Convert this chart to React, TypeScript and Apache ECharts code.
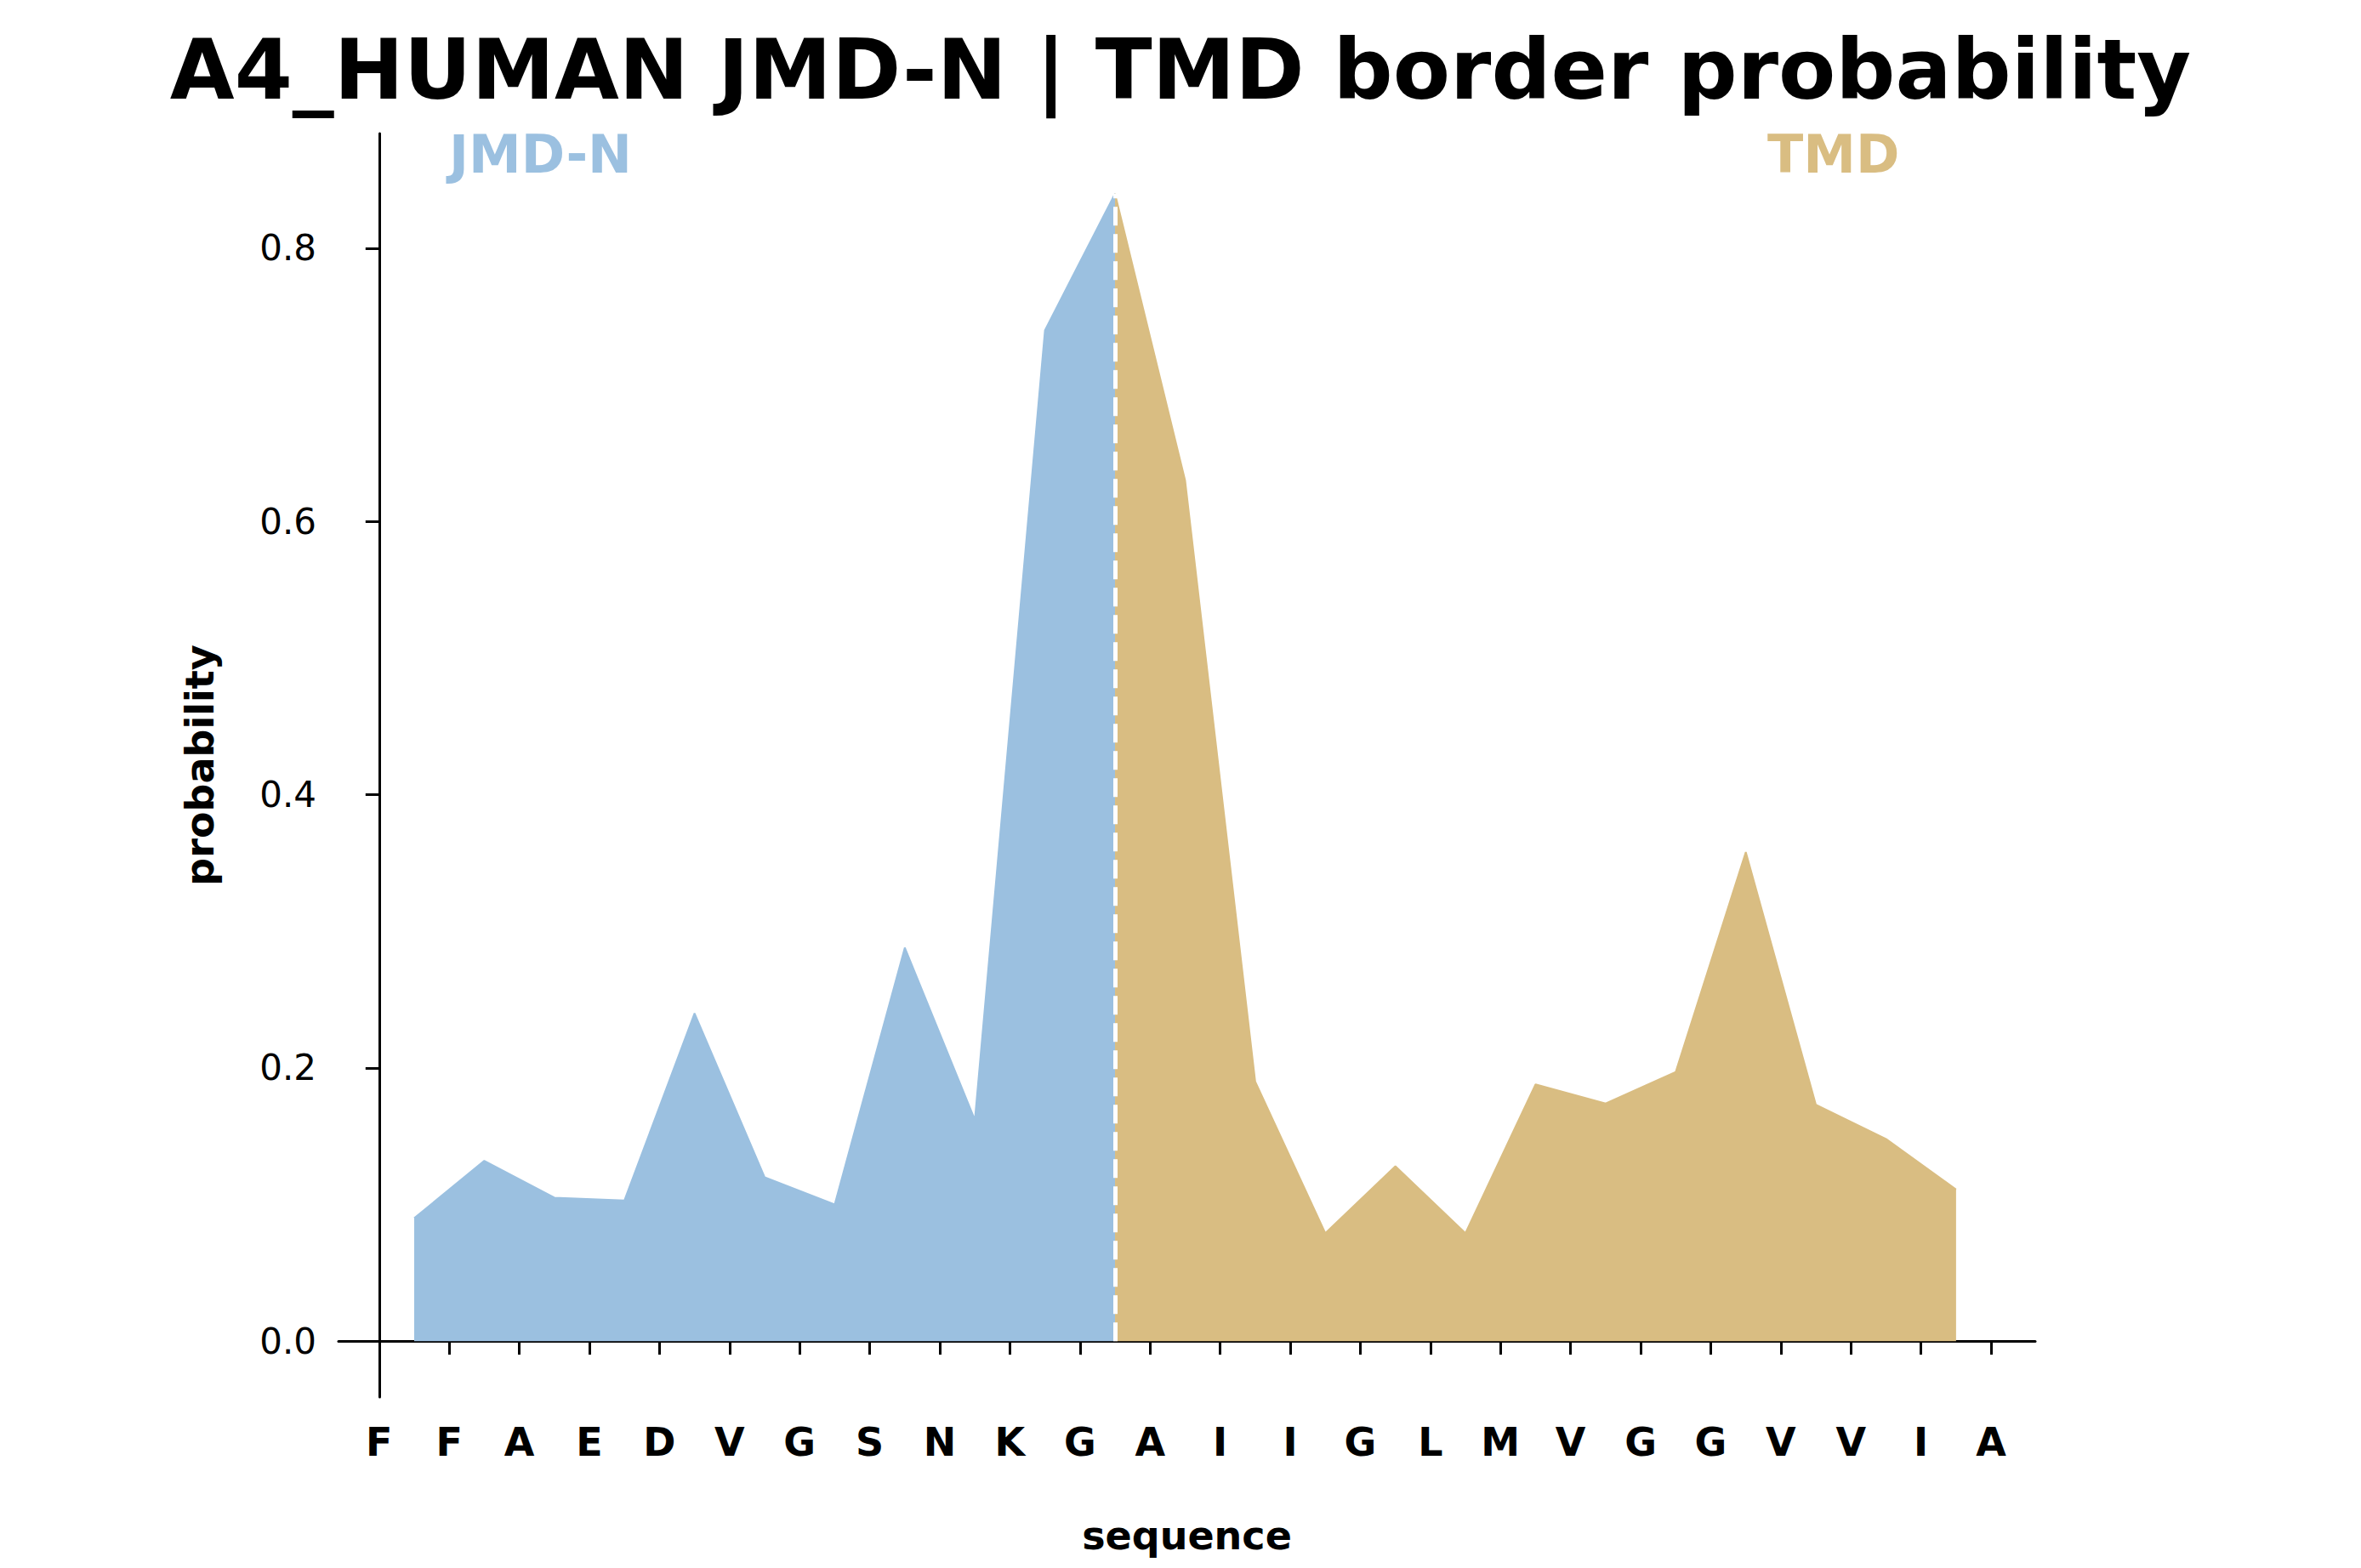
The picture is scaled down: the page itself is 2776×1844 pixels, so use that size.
import React, { useRef, useEffect } from 'react'
import * as echarts from 'echarts'

const residues = ['F', 'F', 'A', 'E', 'D', 'V', 'G', 'S', 'N', 'K', 'G', 'A', 'I', 'I', 'G', 'L', 'M', 'V', 'G', 'G', 'V', 'V', 'I', 'A']
const jmdX = [0.5, 1.5, 2.5, 3.5, 4.5, 5.5, 6.5, 7.5, 8.5, 9.5, 10.5]
const jmdY = [0.09, 0.132, 0.105, 0.103, 0.24, 0.12, 0.1, 0.288, 0.162, 0.74, 0.84]
const tmdX = [10.5, 11.5, 12.5, 13.5, 14.5, 15.5, 16.5, 17.5, 18.5, 19.5, 20.5, 21.5, 22.5]
const tmdY = [0.84, 0.63, 0.19, 0.079, 0.128, 0.079, 0.188, 0.174, 0.197, 0.358, 0.173, 0.148, 0.111]
const yTicks = [0, 0.2, 0.4, 0.6, 0.8]
const borderX = 10.5

const BLUE = '#9bc0e0'
const TAN = '#d9bd82'
const FONT = 'DejaVu Sans'

const App: React.FC = () => {
  const chartRef = useRef<HTMLDivElement>(null)

  useEffect(() => {
    document.body.style.margin = '0'
    if (!chartRef.current) return
    const chart = echarts.init(chartRef.current, undefined, { renderer: 'svg' })

    const option = {
      animation: false,
      backgroundColor: '#fff',
      textStyle: { fontFamily: FONT },
      title: {
        text: 'A4_HUMAN JMD-N | TMD border probability',
        left: 'center',
        top: 28,
        textStyle: { fontFamily: FONT, fontSize: 98, fontWeight: 'bold', color: '#000' }
      },
      graphic: [
        { type: 'text', left: 528, top: 150, style: { text: 'JMD-N', fill: BLUE, font: `bold 62px "${FONT}"` } },
        { type: 'text', left: 2078, top: 150, style: { text: 'TMD', fill: TAN, font: `bold 62px "${FONT}"` } }
      ],
      grid: { left: 398, right: 383, top: 157, bottom: 201 },
      xAxis: {
        type: 'value',
        min: -0.58,
        max: 23.63,
        name: 'sequence',
        nameLocation: 'middle',
        nameGap: 140,
        nameTextStyle: { fontFamily: FONT, fontSize: 46, fontWeight: 'bold', color: '#000' },
        axisLine: { lineStyle: { color: '#000', width: 3 } },
        axisTick: {
          show: true,
          length: 16,
          lineStyle: { color: '#000', width: 3 },
          customValues: residues.map((_, i) => i)
        },
        axisLabel: {
          customValues: residues.map((_, i) => i),
          formatter: (v: number) => residues[Math.round(v)] ?? '',
          margin: 30,
          fontFamily: FONT,
          fontSize: 46,
          fontWeight: 'bold',
          color: '#000'
        },
        splitLine: { show: false }
      },
      yAxis: {
        type: 'value',
        min: -0.041,
        max: 0.884,
        name: 'probability',
        nameLocation: 'middle',
        nameGap: 140,
        nameTextStyle: { fontFamily: FONT, fontSize: 46, fontWeight: 'bold', color: '#000' },
        axisLine: { show: true, lineStyle: { color: '#000', width: 3 } },
        axisTick: { show: true, length: 16, lineStyle: { color: '#000', width: 3 }, customValues: yTicks },
        axisLabel: {
          customValues: yTicks,
          formatter: (v: number) => v.toFixed(1),
          margin: 26,
          fontFamily: FONT,
          fontSize: 42,
          color: '#000'
        },
        splitLine: { show: false }
      },
      series: [
        {
          type: 'line',
          data: jmdX.map((x, i) => [x, jmdY[i]]),
          symbol: 'none',
          lineStyle: { color: BLUE, width: 2 },
          areaStyle: { color: BLUE, opacity: 1 },
          z: 2
        },
        {
          type: 'line',
          data: tmdX.map((x, i) => [x, tmdY[i]]),
          symbol: 'none',
          lineStyle: { color: TAN, width: 2 },
          areaStyle: { color: TAN, opacity: 1 },
          z: 2,
          markLine: {
            silent: true,
            symbol: 'none',
            label: { show: false },
            lineStyle: { color: '#fff', type: [22, 10], width: 5 },
            data: [[{ coord: [borderX, 0] }, { coord: [borderX, 0.84] }]]
          }
        }
      ]
    }

    chart.setOption(option)
    return () => chart.dispose()
  }, [])

  return <div ref={chartRef} style={{ width: 2776, height: 1844 }} />
}

export default App
